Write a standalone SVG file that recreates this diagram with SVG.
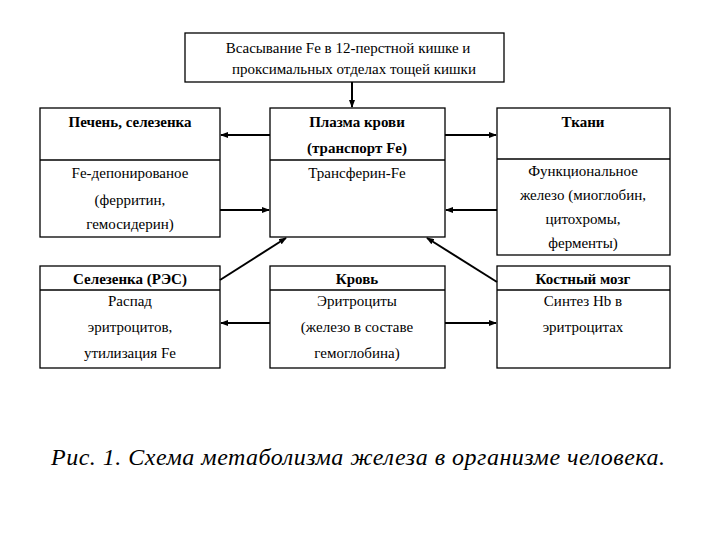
<svg xmlns="http://www.w3.org/2000/svg" width="720" height="540" viewBox="0 0 720 540">
<style>
.b{fill:#fff;stroke:#000;stroke-width:1.3}
.d{stroke:#000;stroke-width:1.3}
text{font-family:'Liberation Serif','Times New Roman','DejaVu Serif',serif;font-size:15px;text-anchor:middle;fill:#000}
.h{font-weight:bold}
.c{stroke:#000;stroke-width:2;fill:none;marker-end:url(#a)}
</style>
<defs><marker id="a" markerWidth="8" markerHeight="6" refX="7" refY="3" orient="auto" markerUnits="userSpaceOnUse"><path d="M0,0L8,3L0,6z"/></marker></defs>
<rect width="720" height="540" fill="#fff"/>
<g id="top"><rect class="b" x="185" y="33" width="319" height="49"/><text x="348" y="53">Всасывание Fe  в 12-перстной кишке и</text><text x="354" y="74">проксимальных отделах тощей кишки</text></g>
<g id="liver"><rect class="b" x="40" y="108" width="180" height="129"/><line class="d" x1="40" y1="160" x2="220" y2="160"/><text class="h" x="130" y="127">Печень, селезенка</text><text x="130" y="178">Fe-депонированое</text><text x="130" y="205">(ферритин,</text><text x="130" y="229">гемосидерин)</text></g>
<g id="plasma"><rect class="b" x="270" y="108" width="175" height="129"/><line class="d" x1="270" y1="160" x2="445" y2="160"/><text class="h" x="357" y="127">Плазма крови</text><text class="h" x="357" y="153">(транспорт Fe)</text><text x="357" y="178">Трансферин-Fe</text></g>
<g id="tissue"><rect class="b" x="497" y="108" width="173" height="147"/><line class="d" x1="497" y1="159" x2="670" y2="159"/><text class="h" x="583" y="127">Ткани</text><text x="583" y="176">Функциональное</text><text x="583" y="200">железо (миоглобин,</text><text x="583" y="224">цитохромы,</text><text x="583" y="248">ферменты)</text></g>
<g id="spleen"><rect class="b" x="40" y="266" width="180" height="102"/><line class="d" x1="40" y1="290" x2="220" y2="290"/><text class="h" x="130" y="284">Селезенка (РЭС)</text><text x="130" y="306">Распад</text><text x="130" y="332">эритроцитов,</text><text x="130" y="358">утилизация Fe</text></g>
<g id="blood"><rect class="b" x="270" y="266" width="175" height="102"/><line class="d" x1="270" y1="290" x2="445" y2="290"/><text class="h" x="357" y="284">Кровь</text><text x="357" y="306">Эритроциты</text><text x="357" y="332">(железо в составе</text><text x="357" y="358">гемоглобина)</text></g>
<g id="marrow"><rect class="b" x="497" y="266" width="173" height="102"/><line class="d" x1="497" y1="290" x2="670" y2="290"/><text class="h" x="583" y="284">Костный мозг</text><text x="583" y="306">Синтез Hb в</text><text x="583" y="332">эритроцитах</text></g>
<g id="connectors">
<line class="c" x1="352" y1="82" x2="352" y2="107"/>
<line class="c" x1="270" y1="135" x2="221" y2="135"/>
<line class="c" x1="220" y1="210" x2="269" y2="210"/>
<line class="c" x1="445" y1="135" x2="496" y2="135"/>
<line class="c" x1="497" y1="210" x2="446" y2="210"/>
<line class="c" x1="220" y1="280" x2="286" y2="238"/>
<line class="c" x1="497" y1="282" x2="427" y2="238"/>
<line class="c" x1="270" y1="323" x2="221" y2="323"/>
<line class="c" x1="445" y1="323" x2="496" y2="323"/>
</g>
<text x="358" y="465" textLength="614" style="font-size:24px;font-style:italic">Рис. 1. Схема метаболизма железа в организме человека.</text>
</svg>
